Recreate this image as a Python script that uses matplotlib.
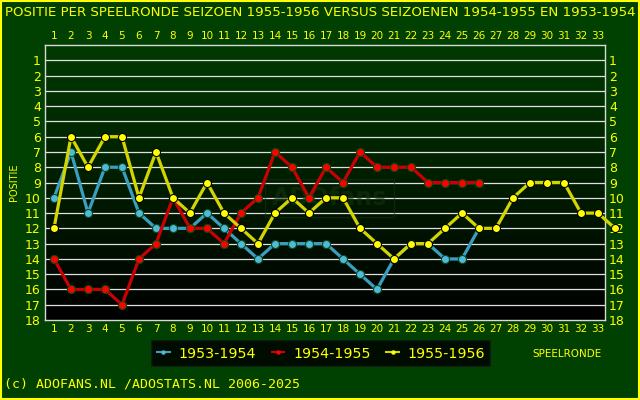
import numpy as np
import matplotlib
matplotlib.use("Agg")
import matplotlib.pyplot as plt
from matplotlib.lines import Line2D
from matplotlib.patches import Rectangle
from matplotlib.colors import LinearSegmentedColormap

# ---- data ----
rounds_5354 = list(range(1, 27))
pos_5354 = [10, 7, 11, 8, 8, 11, 12, 12, 12, 11, 12, 13, 14, 13, 13, 13, 13,
            14, 15, 16, 14, 13, 13, 14, 14, 12]
rounds_5455 = list(range(1, 27))
pos_5455 = [14, 16, 16, 16, 17, 14, 13, 10, 12, 12, 13, 11, 10, 7, 8, 10, 8,
            9, 7, 8, 8, 8, 9, 9, 9, 9]
rounds_5556 = list(range(1, 35))
pos_5556 = [12, 6, 8, 6, 6, 10, 7, 10, 11, 9, 11, 12, 13, 11, 10, 11, 10,
            10, 12, 13, 14, 13, 13, 12, 11, 12, 12, 10, 9, 9, 9, 11, 11, 12]
x_ticks = list(range(1, 34))
y_ticks = list(range(1, 19))
labels = ["1953-1954", "1954-1955", "1955-1956"]

YEL = "#FFFF00"
BG = "#004000"

fig = plt.figure(figsize=(6.4, 4.0), dpi=100, facecolor=BG)
fig.patches.append(Rectangle((0.001, 0.002), 0.997, 0.996, transform=fig.transFigure,
                             fill=False, edgecolor=YEL, lw=1.5, zorder=10))

ax = fig.add_axes([45/640, 1-320/400, 560/640, 275/400])
x0, x1 = 1-9/17, 33+7/17
ax.set_xlim(x0, x1)
ax.set_ylim(18, 0)

grad = np.linspace(0, 1, 256).reshape(-1, 1)
cmap = LinearSegmentedColormap.from_list("g", ["#003a00", "#000000"])
ax.imshow(grad, extent=[x0, x1, 18, 0], aspect="auto", cmap=cmap,
          zorder=0, interpolation="bilinear")

for y in y_ticks[:-1]:
    ax.axhline(y, color="#E0E0E0", lw=0.9, zorder=1)

# faint watermark
ax.text(17.2, 10, "ADOfans", color="#163410", fontsize=17, fontweight="bold",
        ha="center", va="center", zorder=1.5, alpha=0.55,
        bbox=dict(boxstyle="square,pad=0.3", fc="none", ec="#163410", lw=1, alpha=0.55))

series = [
    (rounds_5354, pos_5354, "#3A9EBF", "#50B8D8", "#0a4a20"),
    (rounds_5455, pos_5455, "#CC0000", "#FF0000", "#0a4a10"),
    (rounds_5556, pos_5556, "#D4D400", "#FFFF00", "#000000"),
]
for i, (xr, yr, lc, mc, ec) in enumerate(series):
    ax.plot(xr, yr, color=lc, lw=2.3, zorder=3+i, clip_on=False,
            solid_joinstyle="round")
    ax.plot(xr, yr, ls="none", marker="o", ms=5.8, mfc=mc, mec=ec, mew=0.8,
            zorder=3.5+i, clip_on=False)

for s in ax.spines.values():
    s.set_color("#D8D8D8")
    s.set_linewidth(1.0)
    s.set_zorder(2.5)

ax.set_xticks(x_ticks)
ax.set_yticks(y_ticks)
ax.tick_params(axis="x", length=0, colors=YEL, labelsize=7.5, pad=3,
               top=True, labeltop=True, bottom=True, labelbottom=True)
ax.tick_params(axis="y", length=0, colors=YEL, labelsize=9, pad=3,
               left=True, labelleft=True, right=True, labelright=True)

fig.text(0.5, 1-13/400, "POSITIE PER SPEELRONDE SEIZOEN 1955-1956 VERSUS SEIZOENEN 1954-1955 EN 1953-1954",
         color=YEL, fontsize=9.6, ha="center", va="center")
fig.text(14/640, 1-182/400, "POSITIE", color=YEL, fontsize=7, rotation=90,
         ha="center", va="center")
fig.text(567/640, 1-354/400, "SPEELRONDE", color=YEL, fontsize=7.5,
         ha="center", va="center")
fig.text(4/640, 1-384/400, "(c) ADOFANS.NL /ADOSTATS.NL 2006-2025", color=YEL,
         fontsize=9.5, family="DejaVu Sans Mono", ha="left", va="center")

handles = [Line2D([], [], color=lc, lw=1.5, marker="o", ms=2.2, mfc=mc, mec=mc)
           for (_, _, lc, mc, _) in series]
leg = fig.legend(handles, labels, ncol=3, loc="center",
                 bbox_to_anchor=(321/640, 1-353.5/400), frameon=True,
                 facecolor="#000000", edgecolor="#101010", fontsize=10.3,
                 handlelength=0.9, handletextpad=0.6, columnspacing=1.1,
                 borderpad=0.35, fancybox=False, labelcolor=YEL)
leg.get_frame().set_linewidth(1.2)

fig.savefig("out.png", dpi=100, facecolor=BG)
